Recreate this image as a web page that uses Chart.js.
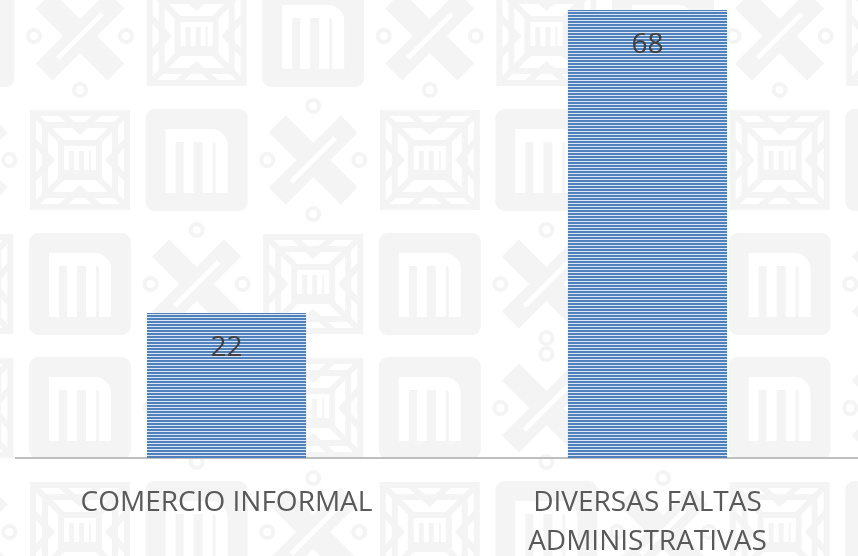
<!DOCTYPE html>
<html>
<head>
<meta charset="utf-8">
<script src="https://cdn.jsdelivr.net/npm/chart.js@4.4.1/dist/chart.umd.min.js"></script>
<style>
  body { margin: 0; background: #fff; }
  canvas { display: block; }
</style>
</head>
<body>
<canvas id="faltasCanvas" width="858" height="556"></canvas>
<script>
// categorias y totales
const categorias = ['COMERCIO INFORMAL', ['DIVERSAS FALTAS', 'ADMINISTRATIVAS']];
const totales = [22, 68];

const gris = '#f4f4f4';

// fondo: mosaico de logotipos en gris muy claro
function logoM(ctx, x, y) {
    ctx.fillStyle = gris;
    ctx.beginPath();
    ctx.roundRect(x, y, 102, 102, 9);
    ctx.fill();
    ctx.fillStyle = '#fff';
    ctx.beginPath();
    ctx.moveTo(x + 20, y + 84);
    ctx.lineTo(x + 20, y + 20);
    ctx.lineTo(x + 66, y + 20);
    ctx.arcTo(x + 82, y + 20, x + 82, y + 36, 16);
    ctx.lineTo(x + 82, y + 84);
    ctx.lineTo(x + 70, y + 84);
    ctx.lineTo(x + 70, y + 36);
    ctx.arcTo(x + 70, y + 33, x + 67, y + 33, 3);
    ctx.lineTo(x + 67, y + 84);
    ctx.lineTo(x + 57, y + 84);
    ctx.lineTo(x + 57, y + 33);
    ctx.lineTo(x + 48, y + 33);
    ctx.lineTo(x + 48, y + 84);
    ctx.lineTo(x + 38, y + 84);
    ctx.lineTo(x + 38, y + 33);
    ctx.lineTo(x + 30, y + 33);
    ctx.lineTo(x + 30, y + 84);
    ctx.closePath();
    ctx.fill();
}

function logoX(ctx, x, y) {
    const cx = x + 51, cy = y + 51;
    ctx.strokeStyle = gris;
    ctx.lineWidth = 24;
    ctx.lineCap = 'butt';
    ctx.beginPath();
    ctx.moveTo(cx - 36, cy + 36); ctx.lineTo(cx + 36, cy - 36);
    ctx.moveTo(cx - 36, cy - 36); ctx.lineTo(cx + 36, cy + 36);
    ctx.stroke();
    ctx.strokeStyle = '#fff';
    ctx.lineWidth = 5;
    ctx.beginPath();
    ctx.moveTo(cx - 22, cy + 22); ctx.lineTo(cx + 22, cy - 22);
    ctx.stroke();
    ctx.strokeStyle = gris;
    ctx.lineWidth = 4;
    [[-46, 0], [46, 0], [0, -54], [0, 54]].forEach(p => {
        ctx.beginPath();
        ctx.arc(cx + p[0], cy + p[1], 6, 0, Math.PI * 2);
        ctx.stroke();
    });
}

function logoCuadro(ctx, x, y) {
    const cx = x + 51, cy = y + 51;
    ctx.strokeStyle = gris;
    ctx.lineWidth = 6;
    ctx.strokeRect(x + 4, y + 4, 94, 94);
    ctx.strokeRect(x + 16, y + 16, 70, 70);
    ctx.beginPath();
    ctx.moveTo(x + 4, y + 4); ctx.lineTo(x + 98, y + 98);
    ctx.moveTo(x + 98, y + 4); ctx.lineTo(x + 4, y + 98);
    ctx.moveTo(cx - 20, y + 4); ctx.lineTo(cx, y + 22); ctx.lineTo(cx + 20, y + 4);
    ctx.moveTo(cx - 20, y + 98); ctx.lineTo(cx, y + 80); ctx.lineTo(cx + 20, y + 98);
    ctx.moveTo(x + 4, cy - 20); ctx.lineTo(x + 22, cy); ctx.lineTo(x + 4, cy + 20);
    ctx.moveTo(x + 98, cy - 20); ctx.lineTo(x + 80, cy); ctx.lineTo(x + 98, cy + 20);
    ctx.stroke();
    ctx.fillStyle = gris;
    ctx.fillRect(cx - 22, cy - 20, 44, 40);
    ctx.fillStyle = '#fff';
    ctx.fillRect(cx - 16, cy - 14, 32, 5);
    [-16, -6, 4, 11].forEach(dx => ctx.fillRect(cx + dx, cy - 14, 5, 24));
}

const filaDesfase = [1, 2, 0, 0, 2];
const fondoPlugin = {
    id: 'fondo',
    beforeDraw(chart) {
        const ctx = chart.ctx;
        ctx.save();
        ctx.fillStyle = '#fff';
        ctx.fillRect(0, 0, chart.width, chart.height);
        for (let r = 0; r < filaDesfase.length; r++) {
            for (let k = -1; k < 8; k++) {
                const x = 29 + 116.6 * k, y = -15 + 124 * r;
                const tipo = ((k + filaDesfase[r]) % 3 + 3) % 3;
                if (tipo == 0) logoM(ctx, x, y);
                else if (tipo == 1) logoX(ctx, x, y);
                else logoCuadro(ctx, x, y);
            }
        }
        ctx.restore();
    }
};

// numero dentro de cada barra
const valoresPlugin = {
    id: 'valores',
    afterDatasetsDraw(chart) {
        const ctx = chart.ctx;
        ctx.save();
        ctx.font = '28px "Open Sans"';
        ctx.fillStyle = '#404040';
        ctx.textAlign = 'center';
        ctx.textBaseline = 'middle';
        chart.getDatasetMeta(0).data.forEach((bar, i) => {
            ctx.fillText(String(totales[i]), bar.x, bar.y + 35);
        });
        ctx.restore();
    }
};

// relleno rayado horizontal
const trama = document.createElement('canvas');
trama.width = 4;
trama.height = 3;
const tctx = trama.getContext('2d');
tctx.fillStyle = '#4f81bd';
tctx.fillRect(0, 0, 4, 2);
tctx.fillStyle = '#dce6f2';
tctx.fillRect(0, 2, 4, 1);

let ctxFaltas = document.getElementById('faltasCanvas').getContext('2d');
const rayas = ctxFaltas.createPattern(trama, 'repeat');

let faltasChart = new Chart(ctxFaltas, {
    type: 'bar',
    data: {
        labels: categorias,
        datasets: [{
            data: totales,
            backgroundColor: rayas,
            borderWidth: 0,
            barPercentage: 0.378,
            categoryPercentage: 1
        }]
    },
    options: {
        responsive: false,
        animation: false,
        devicePixelRatio: 1,
        layout: { padding: { left: 16, right: 0, top: 0, bottom: 0 } },
        plugins: {
            legend: { display: false },
            tooltip: { enabled: false }
        },
        scales: {
            x: {
                grid: { display: false, drawTicks: false },
                border: { display: true, color: '#bfbfbf', width: 2 },
                ticks: {
                    color: '#595959',
                    font: { family: 'Open Sans', size: 28, lineHeight: 1.4 },
                    padding: 25,
                    maxRotation: 0,
                    autoSkip: false
                },
                afterFit(scale) {
                    scale.height = 98;
                }
            },
            y: {
                display: false,
                min: 0,
                max: 69.5
            }
        }
    },
    plugins: [fondoPlugin, valoresPlugin]
});
</script>
</body>
</html>
